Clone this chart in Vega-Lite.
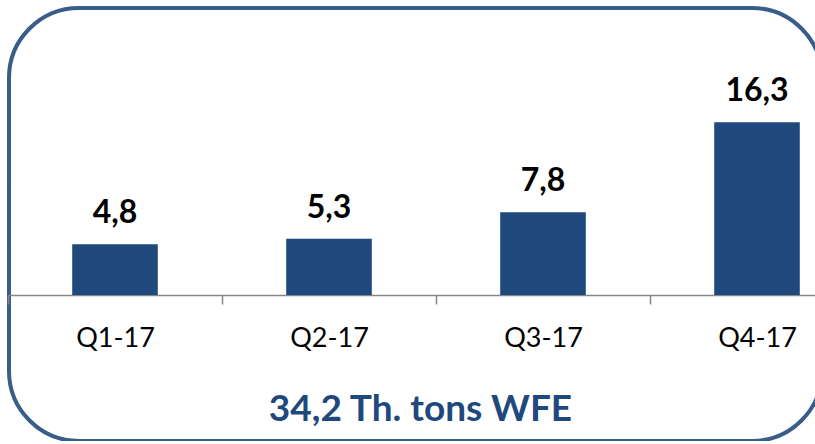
{
  "$schema": "https://vega.github.io/schema/vega-lite/v6.json",
  "autosize": "none",
  "padding": {"left": 9, "top": 8, "right": 0, "bottom": 0},
  "width": 813,
  "height": 433,
  "background": "#ffffff",
  "config": {
    "view": {"stroke": "#385D8A", "strokeWidth": 4, "cornerRadius": 70, "fill": "#ffffff"},
    "font": "Lato"
  },
  "data": {
    "values": [
      {"quarter": "Q1-17", "value": 4.8, "label": "4,8"},
      {"quarter": "Q2-17", "value": 5.3, "label": "5,3"},
      {"quarter": "Q3-17", "value": 7.8, "label": "7,8"},
      {"quarter": "Q4-17", "value": 16.3, "label": "16,3"}
    ]
  },
  "encoding": {
    "x": {
      "field": "quarter",
      "type": "nominal",
      "sort": null,
      "scale": {"range": [-1, 855], "paddingInner": 0, "paddingOuter": 0},
      "axis": {
        "title": "34,2 Th. tons WFE",
        "titleFont": "Lato",
        "titleFontSize": 37,
        "titleFontWeight": "bold",
        "titleColor": "#1F497D",
        "titleBaseline": "alphabetic",
        "titleAnchor": "middle",
        "titleX": 411,
        "titleY": 125,
        "offset": -146,
        "domainColor": "#868686",
        "domainWidth": 1.5,
        "tickColor": "#868686",
        "tickWidth": 1.5,
        "tickSize": 9,
        "tickBand": "extent",
        "labelAngle": 0,
        "labelFont": "Lato",
        "labelFontSize": 27,
        "labelColor": "#000000",
        "labelBaseline": "alphabetic",
        "labelPadding": 42,
        "grid": false
      }
    },
    "y": {
      "field": "value",
      "type": "quantitative",
      "scale": {"domain": [-13.77, 27.08], "nice": false, "zero": false},
      "axis": null
    }
  },
  "layer": [
    {
      "mark": {"type": "bar", "color": "#1F497D", "width": {"band": 0.4}}
    },
    {
      "mark": {"type": "text", "font": "Lato", "fontSize": 32, "fontWeight": "bold", "color": "#000000", "baseline": "alphabetic", "dy": -21},
      "encoding": {"text": {"field": "label"}}
    }
  ]
}
